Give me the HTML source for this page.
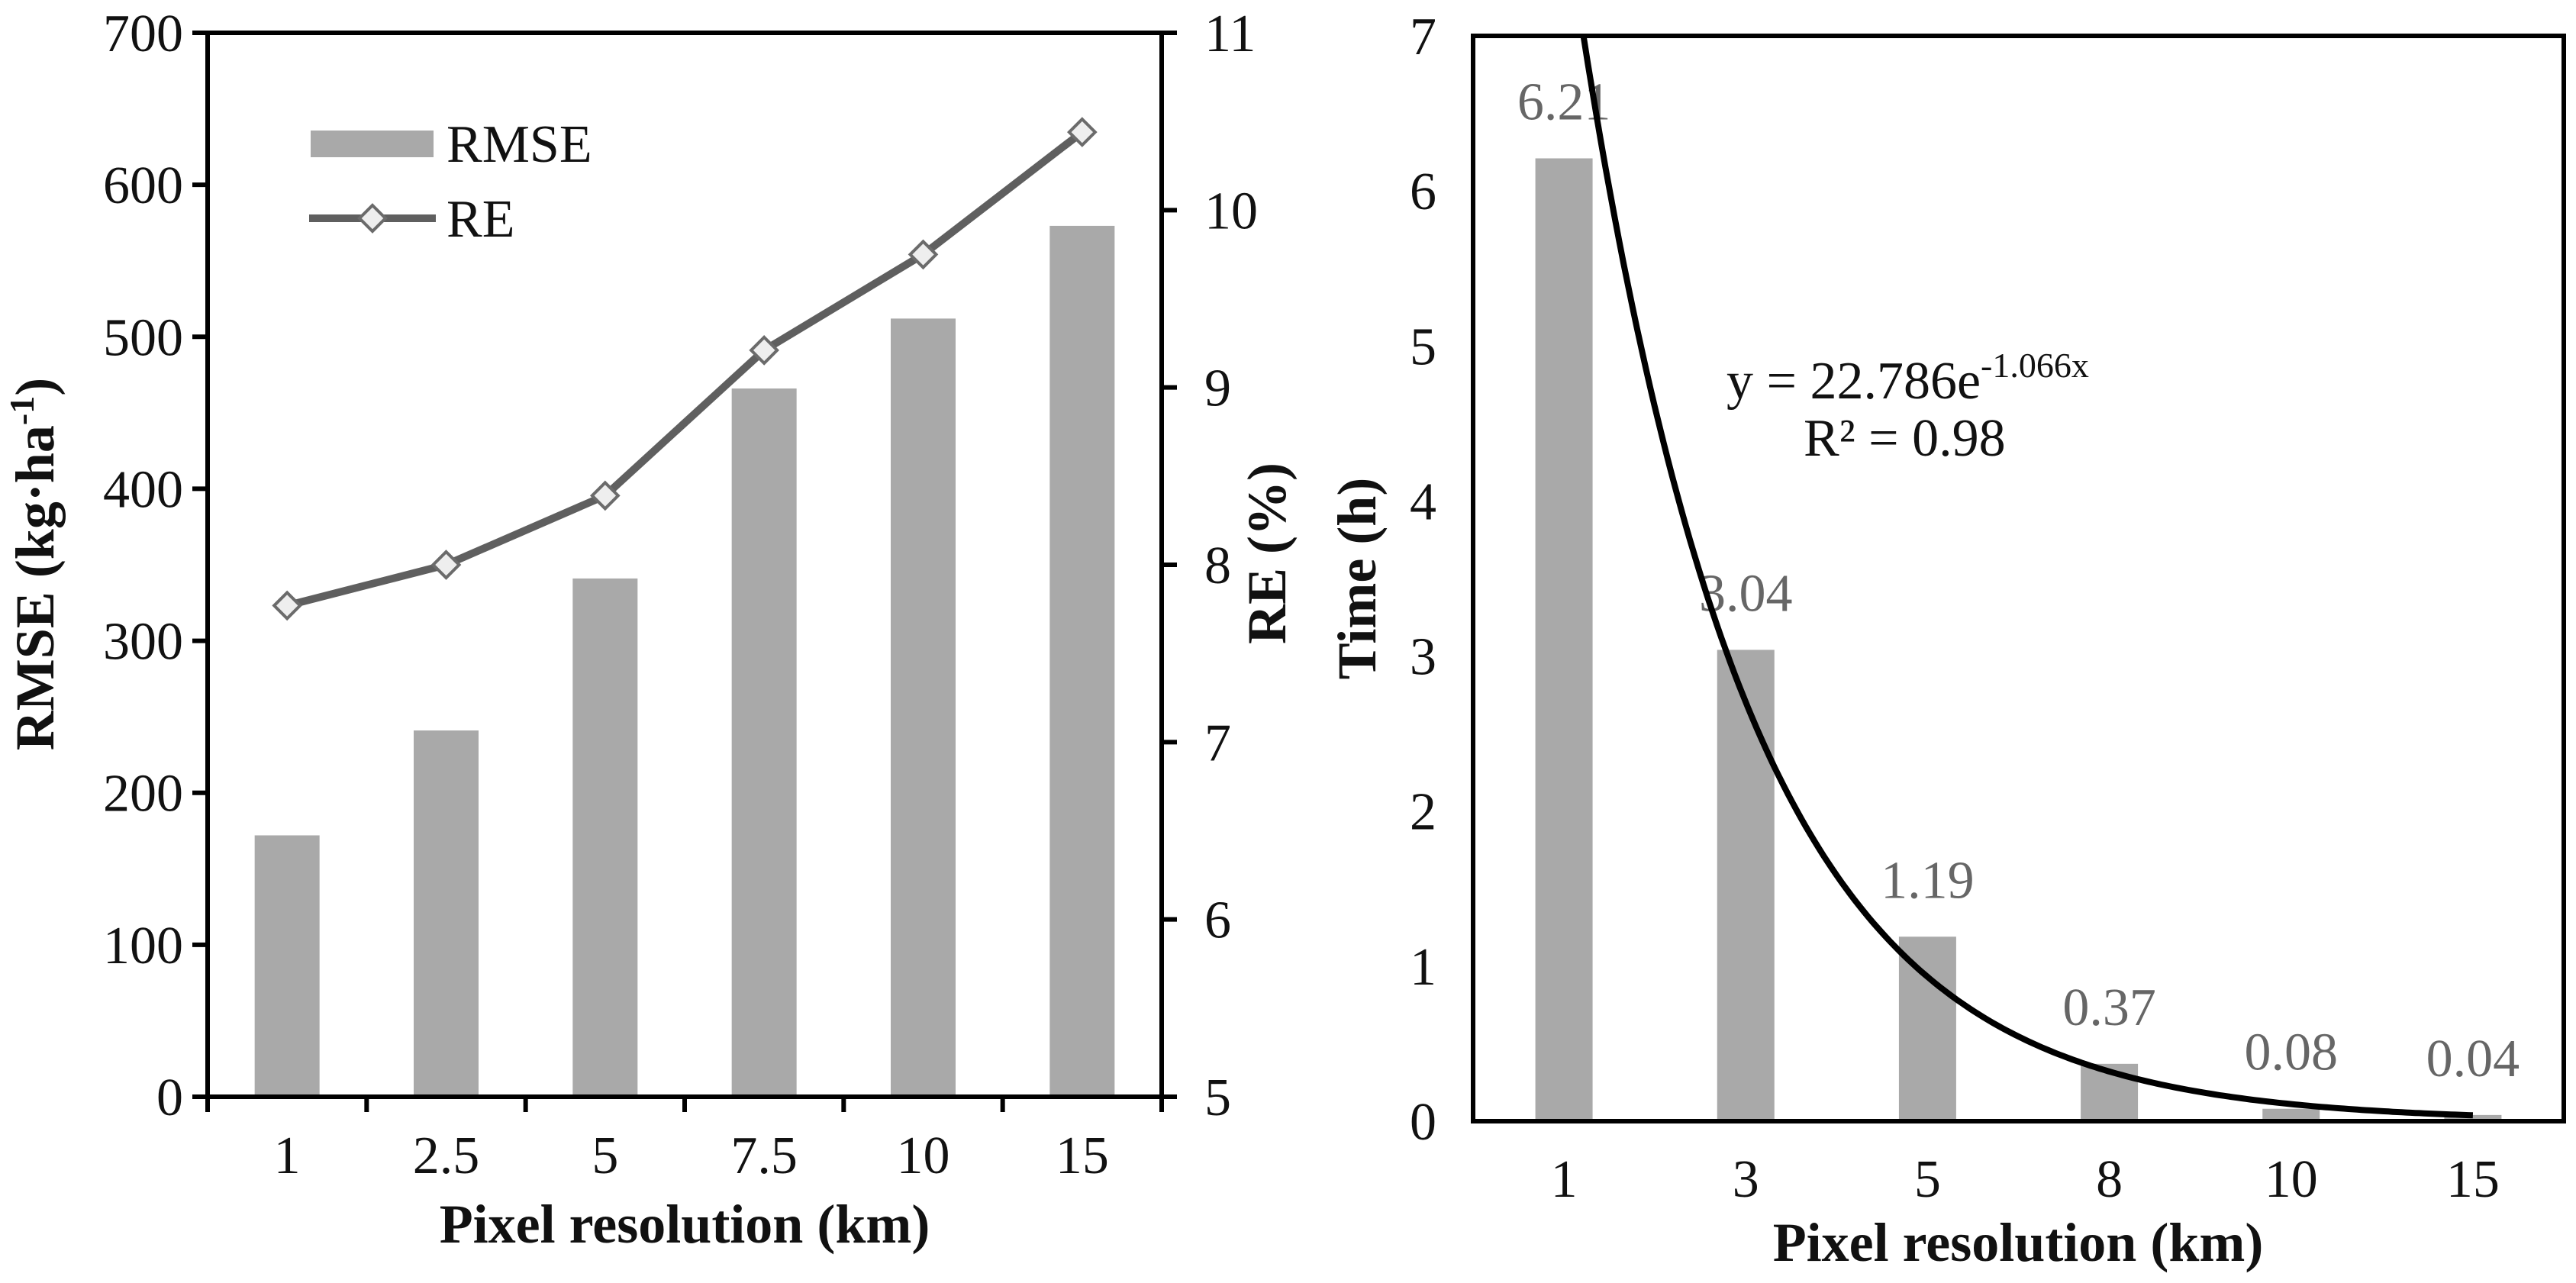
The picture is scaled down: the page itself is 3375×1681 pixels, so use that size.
<!DOCTYPE html>
<html><head><meta charset="utf-8"><style>
html,body{margin:0;padding:0;background:#fff;}
svg{display:block;}
text{font-family:"Liberation Serif",serif;}
</style></head><body>
<svg id="fig" xmlns="http://www.w3.org/2000/svg" width="3375" height="1681" viewBox="0 0 3375 1681">
<rect width="3375" height="1681" fill="#fff"/>
<g id="left"></g>
<g id="right"></g>
</svg>
<script>
// Left chart data
const leftCategories = ["1","2.5","5","7.5","10","15"];
const rmseValues = [172,241,341,466,512,573];
const reValues = [7.77,8.0,8.39,9.21,9.75,10.44];
const rmseTicks = [0,100,200,300,400,500,600,700];
const reTicks = [5,6,7,8,9,10,11];
// Right chart data
const rightCategories = ["1","3","5","8","10","15"];
const timeValues = [6.21,3.04,1.19,0.37,0.08,0.04];
const timeLabels = ["6.21","3.04","1.19","0.37","0.08","0.04"];
const timeTicks = [0,1,2,3,4,5,6,7];
const fitA = 22.786;
const fitB = -1.066;

const NS="http://www.w3.org/2000/svg";
function mk(parent,tag,attrs,txt){const e=document.createElementNS(NS,tag);for(const k in attrs)e.setAttribute(k,attrs[k]);if(txt!==undefined)e.textContent=txt;parent.appendChild(e);return e;}

// ---------- Left chart ----------
const L=document.getElementById('left');
const lx0=272,lx1=1522,ly0=1437,ly1=43;
const lcw=(lx1-lx0)/leftCategories.length;
const xL=i=>lx0+lcw*(i+0.5);
const yR=v=>ly0-(v-0)/(700-0)*(ly0-ly1);
const yE=v=>ly0-(v-5)/(11-5)*(ly0-ly1);

rmseValues.forEach((v,i)=>{
  const r=mk(L,'rect',{x:xL(i)-42.5,y:yR(v),width:85,height:ly0-yR(v),fill:'#a9a9a9'});
  
  
});
// axes
let a=mk(L,'line',{x1:lx0,y1:ly1-3,x2:lx0,y2:ly0+3,stroke:'#000','stroke-width':6});

a=mk(L,'line',{x1:lx1,y1:ly1-3,x2:lx1,y2:ly0+3,stroke:'#000','stroke-width':6});

a=mk(L,'line',{x1:252,y1:ly0,x2:1542,y2:ly0,stroke:'#000','stroke-width':6});

a=mk(L,'line',{x1:252,y1:ly1,x2:1542,y2:ly1,stroke:'#000','stroke-width':6});

rmseTicks.forEach(t=>{
  mk(L,'line',{x1:252,y1:yR(t),x2:lx0,y2:yR(t),stroke:'#000','stroke-width':6});
  const tx=mk(L,'text',{x:240,y:yR(t)+24,'font-size':70,'text-anchor':'end',fill:'#111'},String(t));
  
});
reTicks.forEach(t=>{
  mk(L,'line',{x1:lx1,y1:yE(t),x2:1542,y2:yE(t),stroke:'#000','stroke-width':6});
  const tx=mk(L,'text',{x:1578,y:yE(t)+24,'font-size':70,'text-anchor':'start',fill:'#111'},String(t));
  
});
for(let i=0;i<=leftCategories.length;i++){
  mk(L,'line',{x1:lx0+lcw*i,y1:ly0,x2:lx0+lcw*i,y2:1457,stroke:'#000','stroke-width':6});
}
leftCategories.forEach((c,i)=>{
  const tx=mk(L,'text',{x:xL(i),y:1537,'font-size':70,'text-anchor':'middle',fill:'#111'},c);
  
});
// RE line
const pts=reValues.map((v,i)=>xL(i)+','+yE(v)).join(' ');
const pl=mk(L,'polyline',{points:pts,fill:'none',stroke:'#5f5f5f','stroke-width':10,'stroke-linejoin':'round'});

reValues.forEach((v,i)=>{
  const cx=xL(i),cy=yE(v),s=17;
  const d=mk(L,'polygon',{points:`${cx},${cy-s} ${cx+s},${cy} ${cx},${cy+s} ${cx-s},${cy}`,fill:'#eeeeee',stroke:'#6b6b6b','stroke-width':4});
  
  
});
// legend
const lg=mk(L,'g',{});

mk(lg,'rect',{x:407,y:171,width:161,height:35,fill:'#a9a9a9'});
let t=mk(lg,'text',{x:585,y:212,'font-size':70,fill:'#111'},'RMSE');

mk(lg,'line',{x1:405,y1:286,x2:571,y2:286,stroke:'#5f5f5f','stroke-width':10});
mk(lg,'polygon',{points:'488,269 505,286 488,303 471,286',fill:'#eeeeee',stroke:'#6b6b6b','stroke-width':4});
t=mk(lg,'text',{x:585,y:310,'font-size':70,fill:'#111'},'RE');

// titles
t=mk(L,'text',{x:0,y:0,'font-size':72,'font-weight':'bold','text-anchor':'middle',transform:'translate(70,739) rotate(-90)',fill:'#111'});

t.innerHTML='RMSE (kg·ha<tspan dy="-26" font-size="46">-1</tspan><tspan dy="26">)</tspan>';
t=mk(L,'text',{x:0,y:0,'font-size':72,'font-weight':'bold','text-anchor':'middle',transform:'translate(1684,725) rotate(-90)',fill:'#111'},'RE (%)');

t=mk(L,'text',{x:897,y:1628,'font-size':72,'font-weight':'bold','text-anchor':'middle',fill:'#111'},'Pixel resolution (km)');


// ---------- Right chart ----------
const R=document.getElementById('right');
const rx0=1930,rx1=3359,ry0=1469,ry1=47;
const rcw=(rx1-rx0)/rightCategories.length;
const xR=i=>rx0+rcw*(i+0.5);
const yT=v=>ry0-v/7*(ry0-ry1);
timeValues.forEach((v,i)=>{
  const r=mk(R,'rect',{x:xR(i)-37.5,y:yT(v),width:75,height:ry0-yT(v),fill:'#a9a9a9'});
  
  
});
timeValues.forEach((v,i)=>{
  const tx=mk(R,'text',{x:xR(i),y:yT(v)-51,'font-size':70,'text-anchor':'middle',fill:'#666'},timeLabels[i]);
  
});
// fit curve (x = category index 1..6)
let dstr='';
const xStart=Math.log(7/fitA)/fitB;
const N=200;
for(let k=0;k<=N;k++){
  const xv=xStart+(6-xStart)*k/N;
  const px=xR(xv-1), py=yT(fitA*Math.exp(fitB*xv));
  dstr+=(k?'L':'M')+px.toFixed(1)+','+py.toFixed(1);
}
const cp=mk(R,'path',{d:dstr,fill:'none',stroke:'#000','stroke-width':8});

const fr=mk(R,'rect',{x:rx0,y:ry1,width:rx1-rx0,height:ry0-ry1,fill:'none',stroke:'#000','stroke-width':6});

timeTicks.forEach(tk=>{
  const tx=mk(R,'text',{x:1882,y:yT(tk)+24,'font-size':70,'text-anchor':'end',fill:'#111'},String(tk));
  
});
rightCategories.forEach((c,i)=>{
  const tx=mk(R,'text',{x:xR(i),y:1568,'font-size':70,'text-anchor':'middle',fill:'#111'},c);
  
});
t=mk(R,'text',{x:2262,y:522,'font-size':70,fill:'#111'});

t.innerHTML='y = 22.786e<tspan dy="-28" font-size="46">-1.066x</tspan>';
t=mk(R,'text',{x:2363,y:597,'font-size':70,fill:'#111'},'R² = 0.98');

t=mk(R,'text',{x:0,y:0,'font-size':72,'font-weight':'bold','text-anchor':'middle',transform:'translate(1802,758) rotate(-90)',fill:'#111'},'Time (h)');

t=mk(R,'text',{x:2644,y:1652,'font-size':72,'font-weight':'bold','text-anchor':'middle',fill:'#111'},'Pixel resolution (km)');

</script>
</body></html>
